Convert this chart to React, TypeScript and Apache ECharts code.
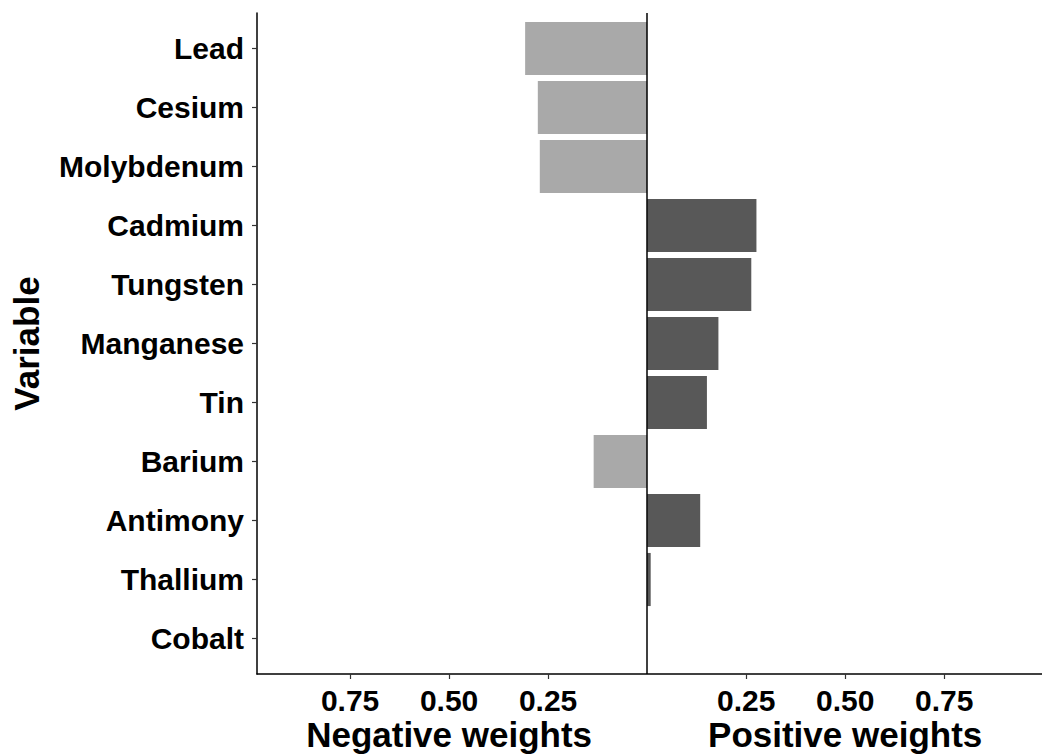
import React, { useEffect, useRef } from "react";
import * as echarts from "echarts";

const categories = [
  "Lead", "Cesium", "Molybdenum", "Cadmium", "Tungsten", "Manganese",
  "Tin", "Barium", "Antimony", "Thallium", "Cobalt",
];
const weights = [-0.308, -0.276, -0.271, 0.276, 0.263, 0.18, 0.151, -0.135, 0.134, 0.009, 0];
const xTicks = [-0.75, -0.5, -0.25, 0.25, 0.5, 0.75];
const sideTitles = ["Negative weights", "Positive weights"];
const sidePositions = [-0.5, 0.5];

const X_MIN = -0.985;
const X_MAX = 0.997;
const FONT = "'Liberation Sans', Arial, sans-serif";

export default function App() {
  const ref = useRef<HTMLDivElement>(null);
  useEffect(() => {
    if (!ref.current) return;
    const chart = echarts.init(ref.current, undefined, { renderer: "svg" });
    const catIdx = categories.map((_, i) => i);
    chart.setOption({
      animation: false,
      backgroundColor: "#fff",
      grid: [
        { left: 257, right: 0, top: 19, bottom: 86, containLabel: false, outerBoundsMode: "none" },
        { left: 257, right: 0, top: 13, bottom: 80, containLabel: false, outerBoundsMode: "none" },
      ],
      xAxis: [
        { gridIndex: 0, type: "value", min: X_MIN, max: X_MAX, show: false },
        {
          gridIndex: 1, type: "value", min: X_MIN, max: X_MAX,
          axisLine: { show: true, onZero: false, lineStyle: { color: "#000", width: 1.5 } },
          axisTick: { show: true, length: 5, customValues: xTicks, lineStyle: { color: "#333", width: 1.2 } },
          axisLabel: {
            customValues: xTicks, margin: 11,
            formatter: (v: number) => Math.abs(v).toFixed(2),
            color: "#000", fontFamily: FONT, fontWeight: "bold", fontSize: 30,
          },
          splitLine: { show: false },
        },
        {
          gridIndex: 1, type: "value", min: X_MIN, max: X_MAX, position: "bottom",
          axisLine: { show: false }, axisTick: { show: false }, splitLine: { show: false },
          axisLabel: {
            customValues: sidePositions, margin: 43,
            formatter: (v: number) => sideTitles[v < 0 ? 0 : 1],
            color: "#000", fontFamily: FONT, fontWeight: "bold", fontSize: 35,
          },
        },
      ],
      yAxis: [
        { gridIndex: 0, type: "category", data: categories, inverse: true, show: false },
        {
          gridIndex: 1, type: "value", min: -0.6, max: categories.length - 0.4, inverse: true,
          name: "Variable", nameLocation: "middle", nameGap: 213, nameRotate: 90,
          nameTextStyle: { color: "#000", fontFamily: FONT, fontWeight: "bold", fontSize: 35 },
          axisLine: { show: true, onZero: false, lineStyle: { color: "#000", width: 1.5 } },
          axisTick: { show: true, length: 5, customValues: catIdx, lineStyle: { color: "#333", width: 1.2 } },
          axisLabel: {
            customValues: catIdx, margin: 13,
            formatter: (v: number) => categories[Math.round(v)] ?? "",
            color: "#000", fontFamily: FONT, fontWeight: "bold", fontSize: 30,
          },
          splitLine: { show: false },
        },
      ],
      series: [
        {
          type: "bar", xAxisIndex: 0, yAxisIndex: 0, barWidth: "90%",
          data: weights.map((w) => ({
            value: w,
            itemStyle: { color: w < 0 ? "#A9A9A9" : "#585858" },
          })),
        },
        {
          type: "scatter", xAxisIndex: 1, yAxisIndex: 1, symbolSize: 0,
          data: [[0, 0]], silent: true,
          markLine: {
            silent: true, symbol: "none", label: { show: false },
            lineStyle: { color: "#000", width: 1.5, type: "solid" },
            data: [{ xAxis: 0 }],
          },
        },
      ],
    });
    return () => chart.dispose();
  }, []);
  return (
    <div
      ref={ref}
      style={{ position: "absolute", left: 0, top: 0, width: 1042, height: 754 }}
    />
  );
}
